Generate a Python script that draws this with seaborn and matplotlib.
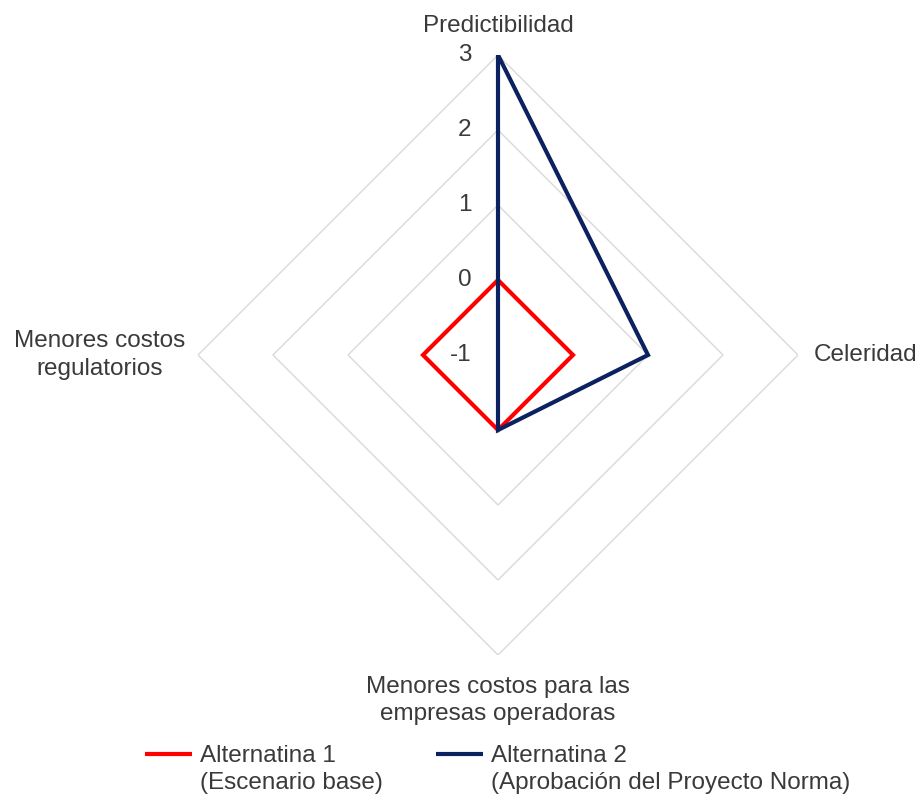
import numpy as np
import pandas as pd
import matplotlib
matplotlib.use("Agg")
import matplotlib.pyplot as plt
from matplotlib.lines import Line2D
from matplotlib.legend_handler import HandlerLine2D
import seaborn as sns

# Criterios evaluados (en sentido horario desde arriba)
categorias = [
    "Predictibilidad",
    "Celeridad",
    "Menores costos para las\nempresas operadoras",
    "Menores costos\nregulatorios",
]
alternativa_1 = [0, 0, 0, 0]
alternativa_2 = [3, 1, 0, -1]
series = [
    "Alternatina 1\n(Escenario base)",
    "Alternatina 2\n(Aprobación del Proyecto Norma)",
]
escala = [-1, 0, 1, 2, 3]

colores = ["#FF0000", "#0B2160"]
gris_texto = "#3A3A3A"
gris_rejilla = "#D9D9D9"

sns.set_theme(style="white")
plt.rcParams["font.family"] = ["Liberation Sans", "DejaVu Sans"]
fs = 17.5
interlineado = 1.3

n = len(categorias)
angulos = np.linspace(0, 2 * np.pi, n, endpoint=False)
ang_cerrado = np.append(angulos, 2 * np.pi)

filas = []
for nombre, valores in zip(series, [alternativa_1, alternativa_2]):
    for a, v in zip(ang_cerrado, list(valores) + [valores[0]]):
        filas.append({"theta": a, "valor": v, "serie": nombre})
df = pd.DataFrame(filas)

fig = plt.figure(figsize=(9.23, 7.97), dpi=100)
ax = fig.add_axes([198 / 923, (797 - 655) / 797, 600 / 923, 600 / 797],
                  projection="polar")
ax.set_theta_offset(np.pi / 2)
ax.set_theta_direction(-1)
ax.set_ylim(escala[0], escala[-1])
ax.grid(False)
ax.set_xticks([])
ax.set_yticks([])
ax.spines["polar"].set_visible(False)
ax.set_facecolor("white")

# Rejilla poligonal (rombos) en cada nivel de la escala
for v in escala[1:]:
    ax.plot(ang_cerrado, [v] * len(ang_cerrado), color=gris_rejilla,
            lw=1.0, zorder=1)

sns.lineplot(data=df, x="theta", y="valor", hue="serie", palette=colores,
             sort=False, estimator=None, linewidth=3.0, legend=False,
             ax=ax, zorder=3)
for ln in ax.lines:
    ln.set_solid_joinstyle("miter")
    ln.set_solid_capstyle("butt")

# Etiquetas de la escala sobre el eje superior
for v in escala:
    ax.annotate(str(v), xy=(0, v), xytext=(-19, 0), textcoords="offset points",
                ha="right", va="center", fontsize=fs, color=gris_texto)

# Etiquetas de los criterios
r_max = escala[-1]
ax.annotate(categorias[0], xy=(angulos[0], r_max), xytext=(0, 21),
            textcoords="offset points", ha="center", va="center",
            fontsize=fs, color=gris_texto)
ax.annotate(categorias[1], xy=(angulos[1], r_max), xytext=(11, 0),
            textcoords="offset points", ha="left", va="center",
            fontsize=fs, color=gris_texto)
ax.annotate(categorias[2], xy=(angulos[2], r_max), xytext=(0, -15),
            textcoords="offset points", ha="center", va="top",
            fontsize=fs, color=gris_texto, multialignment="center",
            linespacing=interlineado)
ax.annotate(categorias[3], xy=(angulos[3], r_max), xytext=(-9, 0),
            textcoords="offset points", ha="right", va="center",
            fontsize=fs, color=gris_texto, multialignment="center",
            linespacing=interlineado)


class PrimeraLinea(HandlerLine2D):
    """Coloca la muestra de línea a la altura de la primera línea del texto."""

    def __init__(self, dy, **kw):
        super().__init__(**kw)
        self.dy = dy

    def create_artists(self, legend, orig_handle, xdescent, ydescent,
                       width, height, fontsize, trans):
        arts = super().create_artists(legend, orig_handle, xdescent, ydescent,
                                      width, height, fontsize, trans)
        for a in arts:
            a.set_ydata(np.asarray(a.get_ydata(), dtype=float) + self.dy)
        return arts


handles = [Line2D([], [], color=c, lw=3.0, solid_capstyle="butt")
           for c in colores]
desplaz = 0.5 * fs * interlineado
leg = fig.legend(handles, series, loc="lower left",
                 bbox_to_anchor=(123 / 923, -0.024), ncol=2, frameon=False,
                 fontsize=fs, handlelength=1.95, handletextpad=0.3,
                 columnspacing=2.2, labelcolor=gris_texto,
                 handler_map={h: PrimeraLinea(desplaz) for h in handles})
for t in leg.get_texts():
    t.set_linespacing(interlineado)

fig.savefig("out.png", dpi=100, facecolor="white")
